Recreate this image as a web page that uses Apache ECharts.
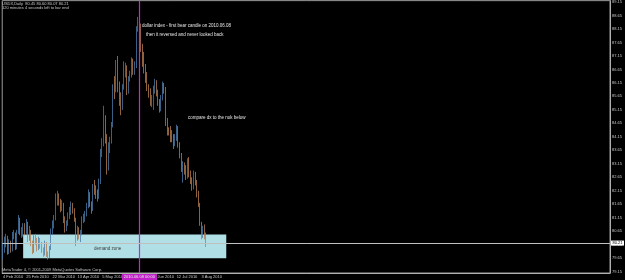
<!DOCTYPE html>
<html><head><meta charset="utf-8">
<script src="https://cdn.jsdelivr.net/npm/echarts@6/dist/echarts.min.js"></script>
<style>html,body{margin:0;padding:0;background:#000;}#c{width:625px;height:280px;}</style>
</head><body><div id="c"></div>
<script>
// Daily USDX bars, 4 Feb 2010 .. 6 Aug 2010 (weekdays)
const opens = [79.75,80.12,80.30,80.40,79.92,80.25,79.98,80.50,80.55,80.02,80.62,81.05,80.62,80.70,80.85,80.62,80.95,
80.35,80.60,80.20,79.90,80.40,80.30,80.05,80.35,80.15,79.95,79.85,80.20,79.78,79.70,80.00,80.65,80.95,81.15,81.95,81.98,81.75,81.50,81.65,
81.05,80.75,80.95,81.25,81.40,81.60,81.45,81.10,80.40,80.75,80.45,80.60,81.10,81.15,81.30,81.60,82.00,81.65,81.45,82.30,82.20,82.10,
81.95,82.50,83.60,83.95,84.80,84.20,83.00,83.80,84.00,84.60,86.00,85.90,86.85,85.95,85.60,85.25,86.00,86.50,86.70,85.85,86.30,
86.50,86.95,86.60,86.80,88.15,88.45,88.20,87.45,86.90,86.65,86.40,85.95,85.80,85.45,85.55,85.90,86.20,85.80,85.40,85.20,85.60,86.10,
85.95,84.65,84.35,84.30,84.20,84.15,83.90,84.10,84.50,83.85,83.50,82.95,83.10,82.95,82.70,83.30,82.75,82.55,82.30,82.80,82.50,82.00,
81.65,80.95,80.45,80.70,80.45];
const highs = [80.25,80.45,80.55,80.48,80.35,80.30,80.62,80.70,80.60,80.70,81.25,81.15,80.80,80.95,80.95,81.10,81.00,
80.85,80.70,80.30,80.50,80.55,80.40,80.45,80.40,80.25,80.05,80.30,80.25,79.90,80.10,80.75,81.05,81.25,82.05,82.15,82.05,81.85,81.80,81.70,
81.20,81.05,81.35,81.55,81.75,81.70,81.50,81.15,80.85,80.80,80.70,81.20,81.30,81.40,81.70,82.20,82.10,81.75,82.40,82.55,82.35,82.20,
82.60,83.70,84.10,85.30,84.95,84.25,83.95,84.15,84.70,86.10,86.40,87.00,87.15,86.20,85.80,86.10,86.95,86.90,86.80,86.40,86.60,
87.10,87.05,86.95,88.25,88.60,88.55,88.35,87.60,87.30,86.85,86.55,86.10,85.95,85.70,86.05,86.30,86.25,85.90,85.55,85.70,86.20,86.15,
86.00,84.85,84.50,84.55,84.40,84.25,84.25,84.60,84.55,83.95,83.55,83.25,83.20,83.10,83.35,83.40,82.90,82.65,82.90,82.85,82.55,82.15,
81.70,81.00,80.85,80.90,80.60];
const lows = [79.62,79.85,80.05,79.78,79.80,79.85,79.90,80.35,79.95,79.98,80.55,80.50,80.40,80.45,80.50,80.55,80.25,
80.30,80.10,79.80,79.85,80.15,79.90,79.95,80.00,79.85,79.70,79.75,79.70,79.60,79.65,79.95,80.55,80.75,81.05,81.60,81.60,81.35,81.40,80.95,
80.60,80.65,80.85,81.10,81.25,81.30,81.00,80.10,80.30,80.35,80.25,80.50,80.95,81.00,81.20,81.50,81.55,81.30,81.40,82.00,81.85,81.75,
81.85,82.40,83.40,83.80,83.90,82.75,82.90,83.55,83.90,84.50,85.55,85.80,85.80,85.30,84.95,85.15,85.90,86.35,85.70,85.75,86.20,
86.35,86.45,86.45,86.70,88.05,88.00,87.30,86.75,86.50,86.15,85.85,85.60,85.30,85.25,85.15,85.75,85.65,85.30,85.05,85.10,85.50,85.75,
84.55,84.20,84.20,83.95,83.95,83.70,83.80,84.00,83.75,83.35,82.85,82.45,82.75,82.55,82.60,82.65,82.40,82.15,82.20,82.35,81.90,81.55,
80.85,80.35,80.40,80.35,80.07];
const closes = [80.12,80.30,80.40,79.92,80.25,79.98,80.50,80.55,80.02,80.62,81.05,80.62,80.70,80.85,80.62,80.95,80.35,
80.60,80.20,79.90,80.40,80.30,80.05,80.35,80.15,79.95,79.85,80.20,79.78,79.70,80.00,80.65,80.95,81.15,81.95,81.98,81.75,81.50,81.65,81.05,
80.75,80.95,81.25,81.40,81.60,81.45,81.10,80.40,80.75,80.45,80.60,81.10,81.15,81.30,81.60,82.00,81.65,81.45,82.30,82.20,82.10,81.95,
82.50,83.60,83.95,84.80,84.20,83.00,83.80,84.00,84.60,86.00,85.90,86.85,85.95,85.60,85.25,86.00,86.50,86.70,85.85,86.30,86.50,
86.95,86.60,86.80,88.15,88.45,88.20,87.45,86.90,86.65,86.40,85.95,85.80,85.45,85.55,85.90,86.20,85.80,85.40,85.20,85.60,86.10,85.95,
84.65,84.35,84.30,84.20,84.15,83.90,84.10,84.50,83.85,83.50,82.95,83.10,82.95,82.70,83.30,82.75,82.55,82.30,82.80,82.50,82.00,81.65,
80.95,80.45,80.70,80.45,80.21];

const xTickLabels = ['4 Feb 2010','25 Feb 2010','22 Mar 2010','13 Apr 2010','5 May 2010','27 May 2010','18 Jun 2010','12 Jul 2010','3 Aug 2010'];
const yTickLabels = ['79.15','79.65','80.15','80.65','81.15','81.65','82.15','82.65','83.15','83.65','84.15','84.65',
'85.15','85.65','86.15','86.65','87.15','87.65','88.15','88.65','89.15'];
const bidPrice = 80.21;
const zone = {fromIdx: 13, toIdx: 144, low: 79.65, high: 80.53};
const markIdx = 88; // 2010.06.08

// categories: weekdays from 4 Feb 2010, extended into the empty right part of the chart
const MON = ['Jan','Feb','Mar','Apr','May','Jun','Jul','Aug','Sep','Oct','Nov','Dec'];
const categories = [];
{
  const d = new Date(Date.UTC(2010,1,4));
  while (categories.length < 392) {
    const wd = d.getUTCDay();
    if (wd !== 0 && wd !== 6) categories.push(d.toISOString().slice(0,10));
    d.setUTCDate(d.getUTCDate()+1);
  }
}
function fmt(iso){ const p = iso.split('-'); return (+p[2]) + ' ' + MON[+p[1]-1] + ' ' + p[0]; }
function fmtMT(iso){ return iso.replace(/-/g,'.') + ' 00:00'; }

const candleData = opens.map((o,i)=>[o, closes[i], lows[i], highs[i]]);

const FONT = 'Liberation Sans, Arial, sans-serif';
const UP = '#4a78a8', DOWN = '#b47a4c';
const MAGENTA = '#d020d8';
const chart = echarts.init(document.getElementById('c'), null, {renderer:'canvas'});
chart.setOption({
  backgroundColor: '#000',
  animation: false,
  grid: {left: 2, right: 15, top: 0, bottom: 7, show: true, borderColor: '#9a9a9a', borderWidth: 1},
  xAxis: {
    type: 'category', data: categories, boundaryGap: true,
    axisLine: {lineStyle: {color: '#b0b0b0', width: 1}},
    axisTick: {show: false},
    splitLine: {show: false},
    axisPointer: {show: false},
    axisLabel: {
      color: '#c8c8c8', fontSize: 4, fontFamily: FONT, margin: 2, align: 'left',
      interval: (idx, val) => xTickLabels.includes(fmt(val)),
      formatter: v => fmt(v)
    }
  },
  yAxis: {
    type: 'value', position: 'right', min: 79.10, max: 89.20, interval: 0.05, scale: true,
    axisLine: {show: true, lineStyle: {color: '#b0b0b0', width: 1}},
    axisTick: {show: false},
    splitLine: {show: false},
    axisLabel: {
      color: '#c8c8c8', fontSize: 4, fontFamily: FONT, margin: 2,
      formatter: v => { const s = v.toFixed(2); return yTickLabels.includes(s) ? s : ''; }
    }
  },
  series: [
    {
      type: 'candlestick', data: candleData, barWidth: 1, z: 3,
      itemStyle: {color: UP, color0: DOWN, borderColor: UP, borderColor0: DOWN, borderWidth: 0.8},
      markArea: {
        silent: true, z: 1,
        itemStyle: {color: '#b0e0e6', opacity: 1},
        label: {show: false},
        data: [[{xAxis: categories[zone.fromIdx], yAxis: zone.low}, {xAxis: categories[zone.toIdx], yAxis: zone.high}]]
      }
    },
    {
      type: 'line', data: [], z: 6, silent: true, color: MAGENTA,
      markLine: {
        silent: true, symbol: ['none','none'], animation: false, precision: 2,
        lineStyle: {color: MAGENTA, width: 1.2, type: 'solid', opacity: 1},
        emphasis: {disabled: true},
        label: {show: true, position: 'start', distance: 1, formatter: fmtMT(categories[markIdx]),
                backgroundColor: '#c020c8', color: '#e8e8e8', fontSize: 4, fontFamily: FONT, padding: [1,2]},
        data: [{xAxis: categories[markIdx], lineStyle: {color: MAGENTA}}]
      }
    },
    {
      type: 'line', data: [], z: 5, silent: true, color: '#c0c0c0',
      markLine: {
        silent: true, symbol: ['none','none'], animation: false,
        lineStyle: {color: '#c0c0c0', width: 1, type: 'solid', opacity: 1},
        emphasis: {disabled: true},
        label: {show: true, position: 'end', distance: 1, formatter: bidPrice.toFixed(2),
                backgroundColor: '#ffffff', color: '#000', fontSize: 4, fontFamily: FONT, padding: [0.5,1.5]},
        data: [{yAxis: bidPrice}]
      }
    }
  ],
  graphic: [
    {type: 'text', left: 2, top: 2, style: {text: 'USDX,Daily  80.45 80.60 80.07 80.21', fill: '#c8c8c8', font: '4px ' + FONT}},
    {type: 'text', left: 2, top: 6, style: {text: '120 minutes 4 seconds left to bar end', fill: '#c8c8c8', font: '4px ' + FONT}},
    {type: 'text', left: 142, top: 23, style: {text: 'dollar index - first bear candle on 2010.06.08', fill: '#e6e6e6', font: '4.5px ' + FONT}},
    {type: 'text', left: 146, top: 32, style: {text: 'then it reversed and never looked back', fill: '#e6e6e6', font: '4.5px ' + FONT}},
    {type: 'text', left: 188, top: 115, style: {text: 'compare dx to the nok below', fill: '#e6e6e6', font: '4.5px ' + FONT}},
    {type: 'text', left: 94, top: 246.5, z: 10, style: {text: 'demand zone', fill: '#3a3a3a', font: '4.5px ' + FONT}},
    {type: 'text', left: 2, top: 267.5, style: {text: 'MetaTrader 4, \u00a9 2001-2009 MetaQuotes Software Corp.', fill: '#c8c8c8', font: '4px ' + FONT}}
  ]
});
</script></body></html>
